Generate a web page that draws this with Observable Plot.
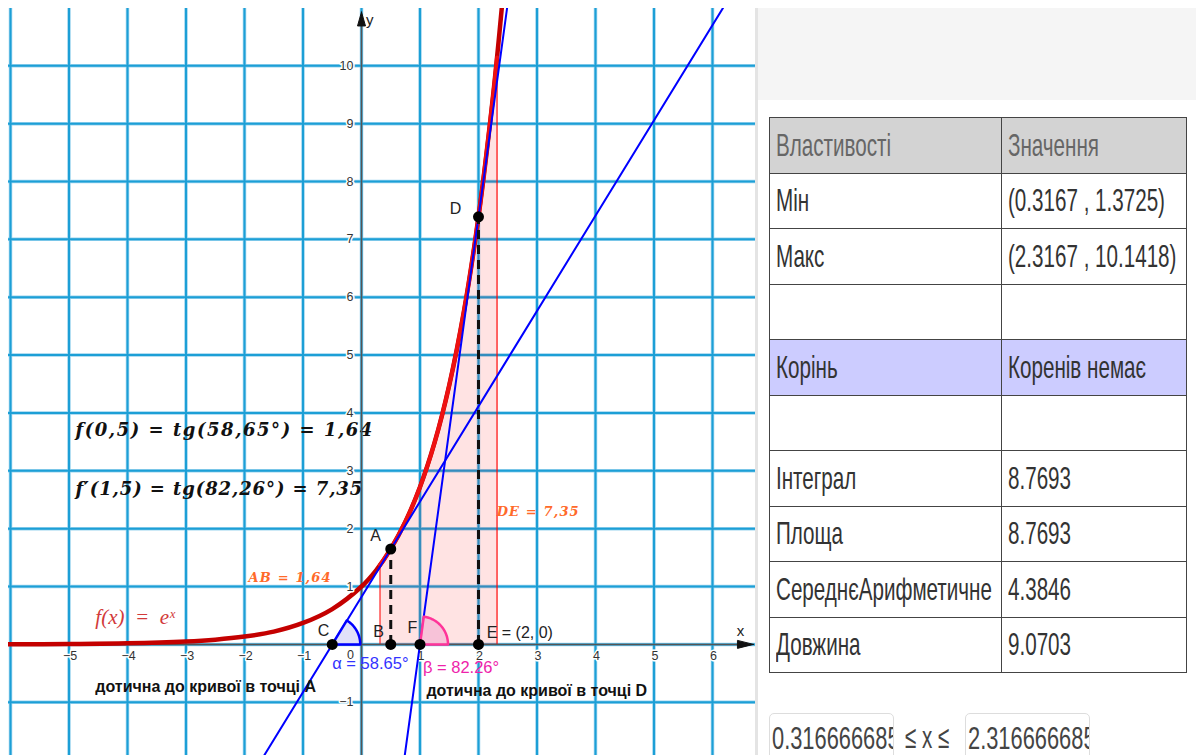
<!DOCTYPE html>
<html><head><meta charset="utf-8">
<script src="https://cdn.jsdelivr.net/npm/d3@7"></script>
<script src="https://cdn.jsdelivr.net/npm/@observablehq/plot@0.6"></script>
<style>
body{margin:0;width:1196px;height:755px;overflow:hidden;background:#fff;position:relative;font-family:"Liberation Sans",Arial,sans-serif;}
#plot{position:absolute;left:8px;top:8px;}
#topgray{position:absolute;left:758px;top:8px;width:438px;height:92px;background:#f5f5f5;}
#vline{position:absolute;left:755px;top:8px;width:3px;height:747px;background:#e4e4e4;}
#tbl{position:absolute;left:769px;top:117px;width:417px;border-collapse:collapse;table-layout:fixed;}
#tbl td{border:1.5px solid #444;height:54.5px;padding:0 0 0 6px;overflow:hidden;white-space:nowrap;color:#333;vertical-align:middle;}
#tbl tr.head td{background:#d3d3d3;color:#666;}
#tbl tr.root td{background:#ccccff;}
.t{display:inline-block;font-size:32px;transform-origin:left center;}
.box{position:absolute;top:713px;height:50px;border:1.5px solid #ddd;border-radius:5px;overflow:hidden;white-space:nowrap;padding-left:2px;color:#444;line-height:48px;}
#le{position:absolute;left:905px;top:713px;line-height:48px;color:#444;white-space:nowrap;}
</style></head>
<body>
<div id="plot"></div>
<div id="vline"></div>
<div id="topgray"></div>
<table id="tbl"></table>
<div class="box" id="b1" style="left:769px;width:121px;"></div>
<div id="le"></div>
<div class="box" id="b2" style="left:965px;width:121px;"></div>
<script>
// ---------- data ----------
const gridX = [-6,-5,-4,-3,-2,-1,0,1,2,3,4,5,6];
const gridY = [-1,0,1,2,3,4,5,6,7,8,9,10];
const tickX = [-5,-4,-3,-2,-1,1,2,3,4,5,6];
const tickY = [-1,1,2,3,4,5,6,7,8,9,10];
// f(x) = e^x
const curveX = [-6.1,-5,-4,-3,-2.5,-2,-1.5,-1,-0.5,0,0.25,0.5,0.75,1,1.25,1.5,1.75,2,2.25,2.4,2.45];
const curveY = [0.002,0.007,0.018,0.05,0.082,0.135,0.22,0.37,0.61,1,1.28,1.65,2.12,2.72,3.49,4.48,5.75,7.39,9.49,11.02,11.6];
// integral region 0.3167 <= x <= 2.3167
const regX = [0.3167,0.5,0.75,1,1.25,1.5,1.75,2,2.25,2.3167];
const regY = [1.3725,1.65,2.12,2.72,3.49,4.48,5.75,7.39,9.49,10.1418];
// tangent lines (end points at the view edges)
const tanAX = [-1.67, 6.18], tanAY = [-1.93, 11.0];
const tanDX = [0.738, 2.489], tanDY = [-1.93, 11.0];
// points
const ptName = ["A","B","C","D","E","F"];
const ptX = [0.5,0.5,-0.5,2,2,1];
const ptY = [1.6487,0,0,7.389,0,0];
// point labels
const lblText = ["A","B","C","D","F"];
const lblX = [0.24,0.29,-0.65,1.607,0.87];
const lblY = [1.88,0.22,0.24,7.53,0.29];
const eLabel = "E = (2, 0)", eLabelX = 2.14, eLabelY = 0.2;
// angles
const angName = ["α = 58.65°","β = 82.26°"];
const angVertex = [-0.5, 1];
const angDeg = [58.65, 82.26];
const angStroke = ["#0000ff","#ff3399"];
const angFill = ["#dcdcf8","#f6bcd6"];
const angText = ["#3333ff","#ee22aa"];
const angLblX = [-0.5, 1.05];
const angLblY = [-0.33, -0.40];
// texts
const formulas = ["f(0,5) = tg(58,65°) = 1,64","f′(1,5) = tg(82,26°) = 7,35"];
const formulaX = [-4.89,-4.89];
const formulaY = [3.70,2.69];
const formulaW = [297, 287];
const tangentNotes = ["дотична до кривої в точці A","дотична до кривої в точці D"];
const noteX = [-4.55, 1.11];
const noteY = [-0.73, -0.80];
const segNotes = ["AB = 1,64","DE = 7,35"];
const segX = [-1.93, 2.31];
const segY = [1.156, 2.297];
const segW = [82, 82];
// side panel
const props = ["Властивості","Мін","Макс","","Корінь","","Інтеграл","Площа","СереднєАрифметичне","Довжина"];
const vals  = ["Значення","(0.3167 , 1.3725)","(2.3167 , 10.1418)","","Коренів немає","","8.7693","8.7693","4.3846","9.0703"];
const lower = "0.316666685", upper = "2.316666685";

// ---------- plot ----------
const W = 747, H = 747;
const KX = 58.5, KY = 57.86;
const X0 = -6 - 2/KX, X1 = X0 + W/KX;
const Y1 = 10.99, Y0 = Y1 - H/KY;
const AXX = 6.70, AXY = 10.93; // axis arrow tips

const curve = curveX.map((x,i)=>({x, y:curveY[i]}));
const reg = regX.map((x,i)=>({x, y:regY[i]}));
const pts = ptName.map((n,i)=>({n, x:ptX[i], y:ptY[i]}));
const lbls = lblText.map((t,i)=>({t, x:lblX[i], y:lblY[i]}));

function sector(i){
  const r = 28, out = [{x:angVertex[i], y:0}];
  for (let k=0;k<=40;k++){
    const t = angDeg[i]*Math.PI/180*k/40;
    out.push({x:angVertex[i] + r/KX*Math.cos(t), y: r/KY*Math.sin(t)});
  }
  out.push({x:angVertex[i], y:0});
  return out;
}
const arrowX = [{x:AXX,y:0},{x:AXX-16/KX,y:4/KY},{x:AXX-16/KX,y:-4/KY},{x:AXX,y:0}];
const arrowY = [{x:0,y:AXY},{x:-4/KX,y:AXY-14/KY},{x:4/KX,y:AXY-14/KY},{x:0,y:AXY}];
const fmt = d => d<0 ? "−"+(-d) : String(d);

const gridColor = "#1c9fd6";
const plot = Plot.plot({
  width: W, height: H, margin: 0,
  x: {domain:[X0,X1], axis:null},
  y: {domain:[Y0,Y1], axis:null},
  style: {background:"transparent", overflow:"hidden"},
  marks: [
    Plot.ruleX(gridX, {stroke:"#9ad3ee", strokeWidth:3.5}),
    Plot.ruleY(gridY, {stroke:"#9ad3ee", strokeWidth:3.5}),
    Plot.ruleX(gridX, {stroke:gridColor, strokeWidth:2}),
    Plot.ruleY(gridY, {stroke:gridColor, strokeWidth:2}),
    Plot.text(formulas, {x:(d,i)=>formulaX[i], y:(d,i)=>formulaY[i], text:d=>d, textAnchor:"start",
      fontFamily:"DejaVu Serif", fontStyle:"italic", fontWeight:"bold", fontSize:18, fill:"#111"}),
    Plot.areaY(reg, {x:"x", y:"y", fill:"#ff0000", fillOpacity:0.11, curve:"catmull-rom"}),
    Plot.ruleX([regX[0]], {y1:0, y2:regY[0], stroke:"#ff0000", strokeWidth:1}),
    Plot.ruleX([regX[regX.length-1]], {y1:0, y2:regY[regY.length-1], stroke:"#ff0000", strokeWidth:1.2}),
    Plot.ruleY([0], {x1:regX[0], x2:regX[regX.length-1], stroke:"#ff0000", strokeWidth:1}),
    Plot.ruleY([0], {x1:X0, x2:AXX-0.1, stroke:"#555", strokeWidth:1.5}),
    Plot.ruleX([0], {y1:Y0, y2:AXY-0.1, stroke:"#555", strokeWidth:1.5}),
    Plot.line(arrowX, {x:"x", y:"y", fill:"#111", stroke:"#111", strokeWidth:1}),
    Plot.line(arrowY, {x:"x", y:"y", fill:"#111", stroke:"#111", strokeWidth:1}),
    Plot.line(curve, {x:"x", y:"y", stroke:"#c40000", strokeWidth:4.5, curve:"catmull-rom", clip:true}),
    Plot.line(reg, {x:"x", y:"y", stroke:"#ee1111", strokeWidth:4, curve:"catmull-rom", clip:true}),
    Plot.text(tickX, {x:d=>d, y:0, dy:12, dx:1, text:fmt, fontSize:12.5, fill:"#333", stroke:"white", strokeWidth:3, fontFamily:"Liberation Sans"}),
    Plot.text(tickY, {x:0, y:d=>d, dx:-8, textAnchor:"end", text:fmt, fontSize:12.5, fill:"#333", stroke:"white", strokeWidth:3, fontFamily:"Liberation Sans"}),
    Plot.text(["0"], {x:0, y:0, dx:-11, dy:11, text:d=>d, fontSize:12.5, fill:"#333", fontFamily:"Liberation Sans"}),
    Plot.text(["x"], {x:6.48, y:0.23, text:d=>d, fontSize:15, fill:"#222", fontFamily:"Liberation Sans"}),
    Plot.text(["y"], {x:0.14, y:10.78, text:d=>d, fontSize:15, fill:"#222", fontFamily:"Liberation Sans"}),
    Plot.line([{x:tanAX[0],y:tanAY[0]},{x:tanAX[1],y:tanAY[1]}], {x:"x", y:"y", stroke:"#0000ff", strokeWidth:2, clip:true}),
    Plot.line([{x:tanDX[0],y:tanDY[0]},{x:tanDX[1],y:tanDY[1]}], {x:"x", y:"y", stroke:"#0000ff", strokeWidth:2, clip:true}),
    Plot.line(sector(0), {x:"x", y:"y", fill:angFill[0], fillOpacity:0.85, stroke:angStroke[0], strokeWidth:2.5}),
    Plot.line(sector(1), {x:"x", y:"y", fill:angFill[1], fillOpacity:0.85, stroke:angStroke[1], strokeWidth:2.5}),
    Plot.ruleX([ptX[0]], {y1:0, y2:ptY[0], stroke:"#111", strokeWidth:3, strokeDasharray:"9,6"}),
    Plot.ruleX([ptX[3]], {y1:0, y2:ptY[3], stroke:"#111", strokeWidth:3, strokeDasharray:"9,6"}),
    Plot.dot(pts, {x:"x", y:"y", r:5.5, fill:"#000"}),
    Plot.text(lbls, {x:"x", y:"y", text:"t", fontSize:16, fill:"#222", fontFamily:"Liberation Sans"}),
    Plot.text([eLabel], {x:eLabelX, y:eLabelY, text:d=>d, textAnchor:"start", fontSize:16, fill:"#222", fontFamily:"Liberation Sans"}),
    Plot.text(angName, {x:(d,i)=>angLblX[i], y:(d,i)=>angLblY[i], text:d=>d, textAnchor:"start", fill:(d,i)=>angText[i], fontSize:16.5, fontFamily:"Liberation Sans"}),
    Plot.text(tangentNotes, {x:(d,i)=>noteX[i], y:(d,i)=>noteY[i], text:d=>d, textAnchor:"start", fontWeight:"bold", fontSize:16, fill:"#111", fontFamily:"Liberation Sans"}),
    Plot.text(segNotes, {x:(d,i)=>segX[i], y:(d,i)=>segY[i], text:d=>d, textAnchor:"start", fontFamily:"DejaVu Serif", fontStyle:"italic", fontWeight:"bold", fontSize:13, fill:"#ff6a2a"}),
    Plot.text(["f(x)  =  eˣ"], {x:-4.55, y:0.465, text:d=>d, textAnchor:"start", fontFamily:"Liberation Serif", fontStyle:"italic", fontSize:21, fill:"#d23a3a"})
  ]
});
document.getElementById("plot").appendChild(plot);
function fitSpacing(strings, widths){
  d3.select(plot).selectAll("text").each(function(){
    const i = strings.indexOf(this.textContent);
    if (i < 0) return;
    const n = this.textContent.length;
    const len = this.getComputedTextLength();
    const ls = Math.max(0, (widths[i] - len) / (n - 1));
    this.setAttribute("letter-spacing", ls.toFixed(2));
    this.style.letterSpacing = ls.toFixed(2) + "px";
  });
}
fitSpacing(formulas, formulaW);
fitSpacing(segNotes, segW);

// ---------- side table ----------
const tbl = d3.select("#tbl");
const cg = tbl.append("colgroup");
cg.append("col").style("width","232px");
cg.append("col").style("width","185px");
props.forEach((p,i)=>{
  const tr = tbl.append("tr").attr("class", i===0?"head":(p==="Корінь"?"root":null));
  tr.append("td").append("span").attr("class","t").text(p);
  tr.append("td").append("span").attr("class","t").text(vals[i]);
});
d3.select("#b1").append("span").attr("class","t").text(lower);
d3.select("#le").append("span").attr("class","t").text("≤ x ≤");
d3.select("#b2").append("span").attr("class","t").text(upper);
const ref = document.querySelector("#tbl .t");
const s = 115 / ref.getBoundingClientRect().width;
document.querySelectorAll("#tbl .t, #le .t").forEach(e=>{ e.style.transform = `scaleX(${s})`; });
document.querySelectorAll(".box .t").forEach(e=>{ e.style.transform = `scaleX(${s*1.06})`; });
</script>
</body></html>
